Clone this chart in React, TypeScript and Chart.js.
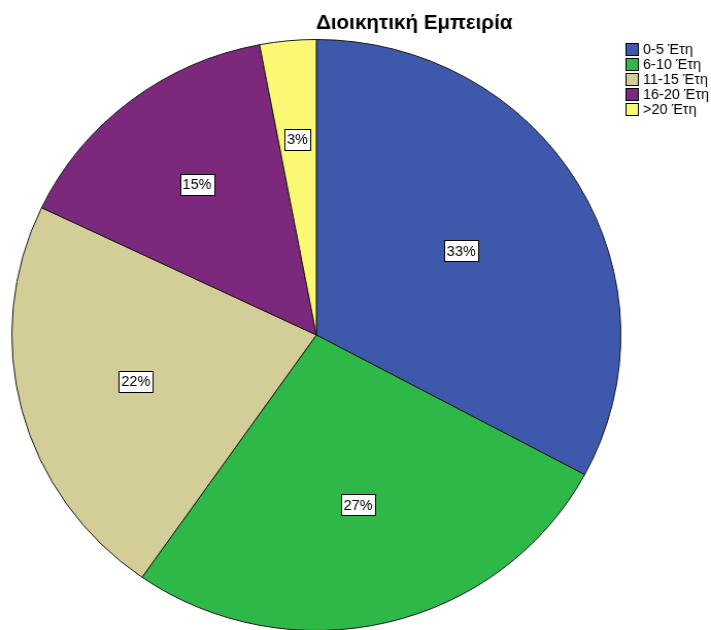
import React, { useEffect, useRef } from "react";
import { Chart, registerables } from "chart.js";

Chart.register(...registerables);

const TITLE = "Διοικητική Εμπειρία";
const categories = ["0-5 Έτη", "6-10 Έτη", "11-15 Έτη", "16-20 Έτη", ">20 Έτη"];
const counts = [22, 18, 15, 10, 2];
const colors = ["#3E58AC", "#2EB848", "#D3CE97", "#7C287D", "#FBF873"];

const FONT = '"Liberation Sans", Arial, sans-serif';

// internal drawing size; the canvas is shown slightly wider (like the reference's stretched image)
const INNER_W = 690;
const INNER_H = 640;
const SHOW_W = 711;

const labelPlugin = {
  id: "sliceLabels",
  afterDatasetsDraw(chart: any) {
    const ctx = chart.ctx;
    const meta = chart.getDatasetMeta(0);
    const data = chart.data.datasets[0].data as number[];
    const total = data.reduce((a, b) => a + b, 0);
    ctx.save();
    ctx.font = `14px ${FONT}`;
    ctx.textAlign = "center";
    ctx.textBaseline = "middle";
    meta.data.forEach((arc: any, i: number) => {
      const { x, y, startAngle, endAngle, outerRadius } = arc.getProps(
        ["x", "y", "startAngle", "endAngle", "outerRadius"],
        true
      );
      const half = (endAngle - startAngle) / 2;
      const mid = startAngle + half;
      const d = (2 * outerRadius * Math.sin(half)) / (3 * half);
      const cx = x + d * Math.cos(mid);
      const cy = y + d * Math.sin(mid);
      const text = Math.round((data[i] / total) * 100) + "%";
      const w = Math.round(ctx.measureText(text).width + 5);
      const h = 21;
      const bx = Math.round(cx - w / 2) + 0.5;
      const by = Math.round(cy - h / 2) + 0.5;
      ctx.fillStyle = "#ffffff";
      ctx.fillRect(bx, by, w, h);
      ctx.strokeStyle = "#000000";
      ctx.lineWidth = 1;
      ctx.strokeRect(bx, by, w, h);
      ctx.fillStyle = "#000000";
      ctx.fillText(text, cx, cy + 1);
    });
    ctx.restore();
  },
};

const titleLegendPlugin = {
  id: "titleLegend",
  afterDraw(chart: any) {
    const ctx = chart.ctx;
    ctx.save();
    // title
    ctx.font = `bold 20px ${FONT}`;
    ctx.fillStyle = "#000000";
    ctx.textAlign = "center";
    ctx.textBaseline = "alphabetic";
    ctx.fillText(TITLE, 402, 29);
    // legend
    ctx.font = `14px ${FONT}`;
    ctx.textAlign = "left";
    ctx.textBaseline = "middle";
    categories.forEach((c, i) => {
      const top = 43 + i * 15;
      ctx.fillStyle = colors[i];
      ctx.fillRect(607.5, top + 0.5, 12, 12);
      ctx.strokeStyle = "#000000";
      ctx.lineWidth = 1;
      ctx.strokeRect(607.5, top + 0.5, 12, 12);
      ctx.fillStyle = "#000000";
      ctx.fillText(c, 624, top + 7);
    });
    ctx.restore();
  },
};

export default function App() {
  const ref = useRef<HTMLCanvasElement | null>(null);
  useEffect(() => {
    if (!ref.current) return;
    const chart = new Chart(ref.current, {
      type: "pie",
      data: {
        labels: categories,
        datasets: [
          {
            data: counts,
            backgroundColor: colors,
            borderColor: "#1a1a1a",
            borderWidth: 1,
          },
        ],
      },
      options: {
        animation: false,
        responsive: false,
        devicePixelRatio: 1,
        layout: { padding: { left: 11, top: 39, right: 87, bottom: 9 } },
        plugins: {
          legend: { display: false },
          title: { display: false },
          tooltip: { enabled: false },
        },
      },
      plugins: [labelPlugin, titleLegendPlugin],
    });
    return () => chart.destroy();
  }, []);
  return (
    <div
      style={{
        position: "absolute",
        left: 0,
        top: 0,
        width: SHOW_W,
        height: INNER_H,
        background: "#ffffff",
      }}
    >
      <canvas
        ref={ref}
        width={INNER_W}
        height={INNER_H}
        style={{ width: SHOW_W, height: INNER_H, display: "block" }}
      />
    </div>
  );
}
